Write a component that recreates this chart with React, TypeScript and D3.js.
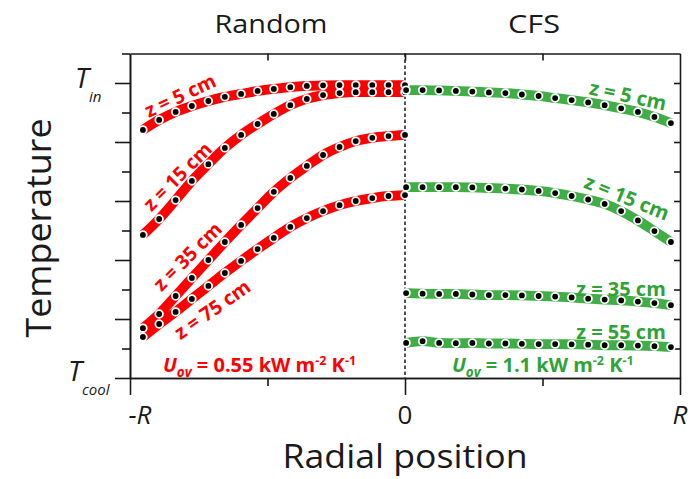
import React, { useEffect, useRef } from 'react';
import * as d3 from 'd3';

const W = 694;
const H = 479;

// radial positions (r/R) of the simulated points
const randomR = [-0.953, -0.894, -0.834, -0.775, -0.715, -0.655, -0.596, -0.536, -0.477, -0.417, -0.357, -0.298, -0.238, -0.179, -0.119, -0.06, 0.0];
const cfsR = [0.004, 0.064, 0.124, 0.185, 0.245, 0.305, 0.365, 0.425, 0.486, 0.546, 0.606, 0.666, 0.726, 0.786, 0.847, 0.907, 0.967];

// temperatures (0 = T_cool, 10 = T_in)
const random5 = [8.41, 8.75, 9.02, 9.22, 9.39, 9.53, 9.63, 9.73, 9.8, 9.86, 9.9, 9.92, 9.93, 9.93, 9.93, 9.93, 9.93];
const random15 = [4.85, 5.39, 6.03, 6.68, 7.25, 7.8, 8.24, 8.61, 8.95, 9.25, 9.46, 9.59, 9.66, 9.69, 9.69, 9.69, 9.69];
const random35 = [1.69, 2.17, 2.78, 3.39, 4.0, 4.61, 5.19, 5.76, 6.31, 6.78, 7.19, 7.56, 7.83, 8.03, 8.14, 8.2, 8.24];
const random75 = [1.39, 1.83, 2.24, 2.68, 3.12, 3.56, 3.97, 4.37, 4.75, 5.12, 5.42, 5.66, 5.86, 6.0, 6.1, 6.17, 6.2];
const cfs5 = [9.76, 9.76, 9.75, 9.73, 9.71, 9.68, 9.66, 9.61, 9.56, 9.49, 9.42, 9.34, 9.25, 9.14, 9.02, 8.85, 8.64];
const cfs15 = [6.47, 6.47, 6.47, 6.47, 6.46, 6.44, 6.42, 6.39, 6.34, 6.27, 6.17, 6.05, 5.9, 5.66, 5.34, 4.98, 4.61];
const cfs35 = [2.88, 2.86, 2.85, 2.85, 2.83, 2.81, 2.81, 2.8, 2.78, 2.76, 2.73, 2.69, 2.66, 2.63, 2.59, 2.54, 2.47];
const cfs55 = [1.19, 1.25, 1.19, 1.18, 1.19, 1.17, 1.17, 1.16, 1.15, 1.15, 1.14, 1.13, 1.11, 1.11, 1.1, 1.08, 1.05];

const RED = '#ff0000';
const GREEN_BAND = '#3fae45';
const GREEN_TEXT = '#2fa336';
const INK = '#1a1a1a';
const FONT = "'Open Sans', 'Noto Sans', sans-serif";

const series = [
  { xs: randomR, ys: random5, color: RED },
  { xs: randomR, ys: random15, color: RED },
  { xs: randomR, ys: random35, color: RED },
  { xs: randomR, ys: random75, color: RED },
  { xs: cfsR, ys: cfs5, color: GREEN_BAND },
  { xs: cfsR, ys: cfs15, color: GREEN_BAND },
  { xs: cfsR, ys: cfs35, color: GREEN_BAND },
  { xs: cfsR, ys: cfs55, color: GREEN_BAND },
];

const x = d3.scaleLinear().domain([-1, 1]).range([130, 680]);
const y = d3.scaleLinear().domain([0, 11]).range([378, 53.5]);

export default function App() {
  const axRef = useRef<SVGGElement>(null);

  useEffect(() => {
    const g = d3.select(axRef.current);
    g.selectAll('*').remove();
    const add = (axis: any, tx: number, ty: number) => {
      const s = g.append('g').attr('transform', `translate(${tx},${ty})`).call(axis);
      s.selectAll('text').remove();
      s.select('.domain').attr('stroke', INK).attr('stroke-width', 1.6);
      s.selectAll('line').attr('stroke', INK).attr('stroke-width', 1.6);
    };
    const none = () => '';
    add(d3.axisLeft(y).tickValues([0, 2, 4, 6, 8, 10]).tickSize(15).tickSizeOuter(0).tickFormat(none), 130, 0);
    add(d3.axisLeft(y).tickValues([1, 3, 5, 7, 9, 11]).tickSize(8).tickSizeOuter(0).tickFormat(none), 130, 0);
    add(d3.axisRight(y).tickValues([1, 2, 3, 4, 5, 6, 7, 8, 9, 10]).tickSize(-6).tickSizeOuter(0).tickFormat(none), 680, 0);
    add(d3.axisBottom(x).tickValues([-1, 0, 1]).tickSize(17).tickSizeOuter(0).tickFormat(none), 0, 378);
    add(d3.axisBottom(x).tickValues([-0.5, 0.5]).tickSize(8).tickSizeOuter(0).tickFormat(none), 0, 378);
    add(d3.axisTop(x).tickValues([-0.5, 0, 0.5]).tickSize(-7).tickSizeOuter(0).tickFormat(none), 0, 53.5);
  }, []);

  const line = d3
    .line<[number, number]>()
    .x((d) => x(d[0]))
    .y((d) => y(d[1]))
    .curve(d3.curveMonotoneX);

  const redLabels = [
    { t: 'z = 5 cm', cx: 180, cy: 95, a: -25 },
    { t: 'z = 15 cm', cx: 177, cy: 176, a: -45 },
    { t: 'z = 35 cm', cx: 187, cy: 256, a: -45 },
    { t: 'z = 75 cm', cx: 212, cy: 309, a: -35 },
  ];
  const greenLabels = [
    { t: 'z = 5 cm', cx: 628, cy: 95, a: 12 },
    { t: 'z = 15 cm', cx: 627, cy: 197, a: 22 },
    { t: 'z = 35 cm', cx: 621, cy: 288, a: 0 },
    { t: 'z = 55 cm', cx: 621, cy: 331, a: 0 },
  ];

  const uov = (x0: number, val: string, color: string) => (
    <text x={x0} y={372} fill={color} fontFamily={FONT} fontWeight={700} fontSize={20}>
      <tspan fontStyle="italic">U</tspan>
      <tspan fontStyle="italic" fontSize={13.5} dy={5}>ov</tspan>
      <tspan dy={-5}>{` = ${val} kW m`}</tspan>
      <tspan fontSize={12.5} dy={-7}>-2</tspan>
      <tspan dy={7}> K</tspan>
      <tspan fontSize={12.5} dy={-7}>-1</tspan>
    </text>
  );

  return (
    <svg width={W} height={H} style={{ position: 'absolute', left: 0, top: 0, background: '#fff' }}>
      <rect x={0} y={0} width={W} height={H} fill="#fff" />
      {/* titles */}
      <text x={271} y={33} textAnchor="middle" fontFamily={FONT} fontSize={26} fill={INK} textLength={113} lengthAdjust="spacingAndGlyphs">Random</text>
      <text x={534} y={33} textAnchor="middle" fontFamily={FONT} fontSize={26} fill={INK} textLength={52} lengthAdjust="spacingAndGlyphs">CFS</text>

      {/* center dotted line */}
      <line x1={x(0)} x2={x(0)} y1={y(11)} y2={y(0)} stroke={INK} strokeWidth={1.5} strokeDasharray="3.5,2.5" />

      <g ref={axRef} />

      {/* bands */}
      {series.map((s, i) => (
        <path
          key={'b' + i}
          d={line(s.xs.map((v, j) => [v, s.ys[j]] as [number, number])) || ''}
          fill="none"
          stroke={s.color}
          strokeWidth={9.8}
        />
      ))}
      {/* markers */}
      {series.map((s, i) => (
        <g key={'m' + i}>
          {s.xs.map((v, j) => (
            <circle key={j} cx={x(v)} cy={y(s.ys[j])} r={3.8} fill="#000" stroke="#fff" strokeWidth={1.8} />
          ))}
        </g>
      ))}

      {/* in-plot labels */}
      {redLabels.map((l, i) => (
        <text
          key={'rl' + i}
          transform={`translate(${l.cx},${l.cy}) rotate(${l.a})`}
          textAnchor="middle"
          dominantBaseline="central"
          fontFamily={FONT}
          fontWeight={700}
          fontSize={19.5}
          fill={RED}
        >
          {l.t}
        </text>
      ))}
      {greenLabels.map((l, i) => (
        <text
          key={'gl' + i}
          transform={`translate(${l.cx},${l.cy}) rotate(${l.a})`}
          textAnchor="middle"
          dominantBaseline="central"
          fontFamily={FONT}
          fontWeight={700}
          fontSize={20}
          fill={GREEN_TEXT}
        >
          {l.t}
        </text>
      ))}
      {uov(163, '0.55', RED)}
      {uov(452, '1.1', GREEN_TEXT)}

      {/* y tick labels */}
      <text x={75} y={88} fontFamily={FONT} fontStyle="italic" fontSize={28} fill={INK}>
        T<tspan fontSize={15} dy={14}>in</tspan>
      </text>
      <text x={68} y={381} fontFamily={FONT} fontStyle="italic" fontSize={28} fill={INK}>
        T<tspan fontSize={15} dy={14}>cool</tspan>
      </text>

      {/* x tick labels */}
      <text x={x(-1) + 10} y={424} textAnchor="middle" fontFamily={FONT} fontStyle="italic" fontSize={26} fill={INK}>-R</text>
      <text x={x(0)} y={424} textAnchor="middle" fontFamily={FONT} fontSize={26} fill={INK}>0</text>
      <text x={x(1)} y={424} textAnchor="middle" fontFamily={FONT} fontStyle="italic" fontSize={26} fill={INK}>R</text>

      {/* axis titles */}
      <text x={405} y={468} textAnchor="middle" fontFamily={FONT} fontSize={33} fill={INK} textLength={245} lengthAdjust="spacingAndGlyphs">Radial position</text>
      <text transform="translate(51,228) rotate(-90)" textAnchor="middle" fontFamily={FONT} fontSize={35} fill={INK} textLength={219} lengthAdjust="spacingAndGlyphs">Temperature</text>
    </svg>
  );
}
